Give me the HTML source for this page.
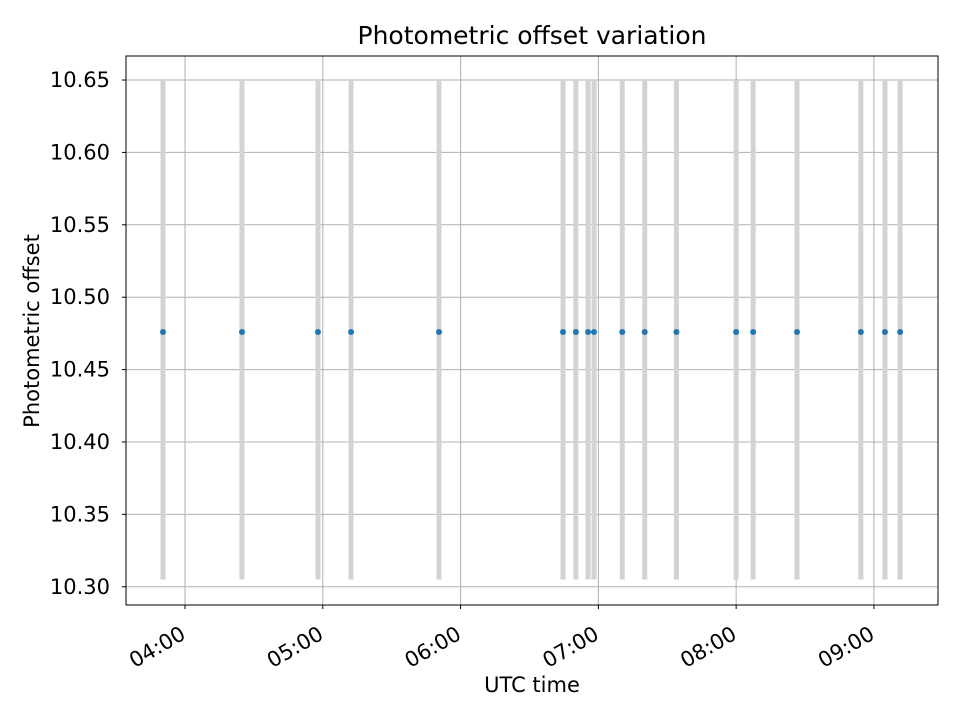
<!DOCTYPE html>
<html><head><meta charset="utf-8"><style>
body{margin:0;background:#fff;font-family:"Liberation Sans","DejaVu Sans",sans-serif;}
svg text{font-family:"DejaVu Sans","Liberation Sans",sans-serif;fill:#000;}
</style></head><body>
<svg id="c" width="960" height="720"></svg>
<script>
const times = ["03:50.4","04:24.8","04:57.9","05:12.3","05:50.6","06:44.6","06:50.2","06:55.5","06:58.1","07:10.4","07:20.2","07:34.0","08:00.0","08:07.4","08:26.5","08:54.3","09:04.8","09:11.4"];
const offsets = [10.476,10.476,10.476,10.476,10.476,10.476,10.476,10.476,10.476,10.476,10.476,10.476,10.476,10.476,10.476,10.476,10.476,10.476];
const errLow = 10.305, errHigh = 10.65;
const yTicks = [10.30,10.35,10.40,10.45,10.50,10.55,10.60,10.65];
const xTickLabels = ["04:00","05:00","06:00","07:00","08:00","09:00"];

const L=126,R=938,T=56,B=605;
const xMin=-25.7, xMax=327.9, yMin=10.2874, yMax=10.6666;
function toMin(s){const [h,m]=s.split(":");return (+h-4)*60+parseFloat(m);}
const X=v=>L+(v-xMin)/(xMax-xMin)*(R-L);
const Y=v=>B-(v-yMin)/(yMax-yMin)*(B-T);
const svg=document.getElementById('c');
const NS="http://www.w3.org/2000/svg";
function el(t,a,p){const e=document.createElementNS(NS,t);for(const k in a)e.setAttribute(k,a[k]);(p||svg).appendChild(e);return e;}

yTicks.forEach(v=>{
  const g=el('line',{x1:L,x2:R,y1:Y(v),y2:Y(v),stroke:'#b0b0b0','stroke-width':1});
  
  
  el('line',{x1:L-4,x2:L,y1:Y(v),y2:Y(v),stroke:'#000'});
  const t=el('text',{x:L-16,y:Y(v)+7,'text-anchor':'end','font-size':21});
  t.textContent=v.toFixed(2);
  
  
});
xTickLabels.forEach(s=>{
  const x=X(toMin(s));
  const g=el('line',{x1:x,x2:x,y1:T,y2:B,stroke:'#b0b0b0','stroke-width':1});
  
  
  el('line',{x1:x,x2:x,y1:B,y2:B+4,stroke:'#000'});
  const ax=x+2, ay=B+33;
  const t=el('text',{x:ax,y:ay,'text-anchor':'end','font-size':21,transform:`rotate(-30 ${ax} ${ay})`});
  t.textContent=s;
  
  
});
times.forEach((s,i)=>{
  const x=X(toMin(s));
  const e=el('line',{x1:x,x2:x,y1:Y(errLow),y2:Y(errHigh),stroke:'#d3d3d3','stroke-width':5});
  
  
});
times.forEach((s,i)=>{
  const p=el('circle',{cx:X(toMin(s)),cy:Y(offsets[i]),r:3,fill:'#1f77b4'});
  
  
});
const f=el('rect',{x:L,y:T,width:R-L,height:B-T,fill:'none',stroke:'#000','stroke-width':1});


let t=el('text',{x:532,y:44,'text-anchor':'middle','font-size':25});
t.textContent='Photometric offset variation';


t=el('text',{x:532,y:692,'text-anchor':'middle','font-size':21});
t.textContent='UTC time';


t=el('text',{x:39,y:331,'text-anchor':'middle','font-size':21,transform:'rotate(-90 39 331)'});
t.textContent='Photometric offset';


</script>
</body></html>
